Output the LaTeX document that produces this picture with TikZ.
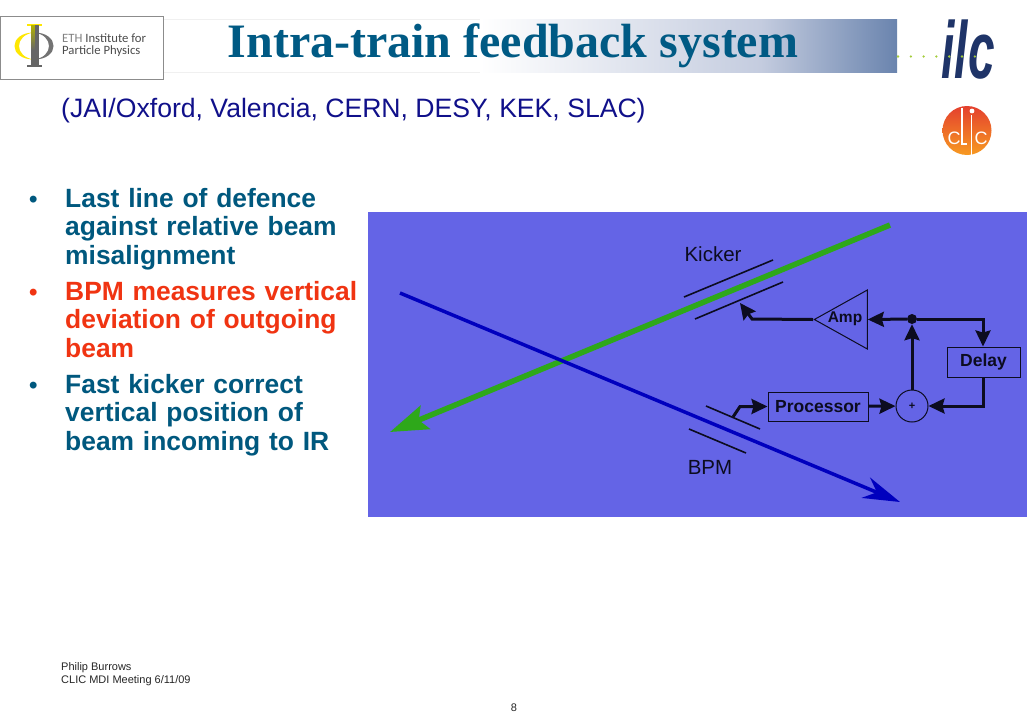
\documentclass[tikz,border=0pt]{standalone}
\usepackage{fontspec}
\setmainfont{Liberation Sans}
\newfontfamily\titlefont{Liberation Serif}
\newfontfamily\logofont{Carlito}
\usetikzlibrary{arrows.meta,positioning,shapes.geometric,calc}

\definecolor{panelblue}{HTML}{6464E6}
\definecolor{barblue}{HTML}{6A84AE}
\definecolor{barpale}{HTML}{C4CCDF}
\definecolor{titleblue}{HTML}{005A84}
\definecolor{bodyteal}{HTML}{00587E}
\definecolor{bodyred}{HTML}{F03412}
\definecolor{subnavy}{HTML}{10108A}
\definecolor{ilcnavy}{HTML}{1F3468}
\definecolor{inkdark}{HTML}{0C0C20}
\definecolor{dotgreen}{HTML}{A4CC3C}
\definecolor{clicred}{HTML}{E4402E}
\definecolor{clicorange}{HTML}{F79A22}
\definecolor{beamgreen}{HTML}{2EA81A}
\definecolor{beamblue}{HTML}{0000BE}

\pgfdeclarehorizontalshading{barshade}{100bp}{color(0bp)=(white); color(46.6bp)=(white); color(65.7bp)=(barpale); color(75bp)=(barblue); color(100bp)=(barblue)}

\tikzset{
    bullet/.style={font=\fontsize{26.4}{28.6}\selectfont\bfseries,align=left,anchor=north west,inner sep=0pt,text width=310pt},
    dotmark/.style={font=\fontsize{24}{28}\selectfont\bfseries,anchor=base west,inner sep=0pt},
    blockbox/.style={draw=inkdark,line width=1pt,inner sep=0pt,text=inkdark,font=\fontsize{17.5}{18}\selectfont\bfseries},
    beamlabel/.style={font=\fontsize{20.5}{22}\selectfont,text=inkdark,inner sep=0pt},
    plate/.style={draw=inkdark,line width=1.6pt},
    sigline/.style={draw=inkdark,line width=3pt,-{Stealth[length=16pt,width=15pt,inset=2pt]}},
    footer/.style={font=\fontsize{11}{13}\selectfont,anchor=west,inner sep=0pt,text=black!85},
}

\begin{document}
\begin{tikzpicture}[x=1pt,y=-1pt]
    \useasboundingbox (0,0) rectangle (1027,720);

    \shade[shading=barshade] (163,19) rectangle (897,72);
    \draw[black!6] (163,19) -- (480,19) (163,72) -- (480,72);
    \node[font=\fontsize{48}{50}\selectfont\bfseries\titlefont,text=titleblue,inner sep=0pt] (titletext) at (513,46) {Intra-train feedback system};

    \node[draw=black!45,fill=white,minimum width=163pt,minimum height=63pt,inner sep=0pt] (ethbox) at (81.5,48) {};
    \fill[yellow!90!orange] (34,32.5) .. controls (8,32.5) and (8,59.5) .. (34,59.5) .. controls (14,57) and (14,35) .. (34,32.5);
    \fill[black!55] (34,32.5) .. controls (60,32.5) and (60,59.5) .. (34,59.5) .. controls (54,57) and (54,35) .. (34,32.5);
    \fill[yellow!90!orange] (27,24) rectangle (42,26);
    \fill[black!60] (27,64.5) rectangle (42,66.5);
    \shade[top color=yellow!70!black,bottom color=black!60] (31,25) rectangle (35,50);
    \fill[black!60] (35,25) rectangle (39,65);
    \fill[black!60] (31,50) rectangle (35,65);
    \node[font=\fontsize{12.7}{12.5}\selectfont\logofont,text=black!70,align=left,anchor=west,inner sep=0pt] (ethlabel) at (62,45) {\textcolor{black!50}{ETH} Institute for\\Particle Physics};

    \node[font=\fontsize{26.6}{28}\selectfont,text=subnavy,anchor=west,inner sep=0pt] (partners) at (61,111) {(JAI/Oxford, Valencia, CERN, DESY, KEK, SLAC)};

    \node[font=\fontsize{81}{81}\selectfont\bfseries\itshape,text=ilcnavy,inner sep=0pt,xscale=0.59,transform shape] (ilclogo) at (968,50) {ilc};
    \foreach \k in {0,...,6}{
        \fill[dotgreen] (898+\k*12.8,56.5) circle (1.3);
    }

    \shade[top color=clicred,bottom color=clicorange] (967,130.5) circle (24.5);
    \draw[white,line width=1.2pt] (962,108) -- (962,144) -- (966.5,144);
    \draw[white,line width=1.2pt] (971.7,115) -- (971.7,155);
    \fill[white] (972,111) circle (2.4);
    \node[font=\fontsize{18}{18}\selectfont,text=white,inner sep=0pt] (clicleft) at (954,138) {C};
    \node[font=\fontsize{18}{18}\selectfont,text=white,inner sep=0pt] (clicright) at (981,138) {C};

    \node[dotmark,text=bodyteal] (dotA) at (29,207) {•};
    \node[bullet,text=bodyteal] (itemA) at (65,188) {Last line of defence\\against relative beam\\misalignment};
    \node[dotmark,text=bodyred] (dotB) at (29,300) {•};
    \node[bullet,text=bodyred] (itemB) at (65,281) {BPM measures vertical\\deviation of outgoing\\beam};
    \node[dotmark,text=bodyteal] (dotC) at (29,393) {•};
    \node[bullet,text=bodyteal] (itemC) at (65,374) {Fast kicker correct\\vertical position of\\beam incoming to IR};

    \fill[panelblue] (368,212) rectangle (1027,517);

    \coordinate (greenstart) at (890,225);
    \coordinate (greenend) at (390,432);
    \coordinate (bluestart) at (400,293);
    \coordinate (blueend) at (900,502);
    \draw[line width=5.5pt,draw=beamgreen,-{Stealth[length=38pt,width=25pt,inset=7pt]}] (greenstart) -- (greenend);
    \draw[line width=3.5pt,draw=beamblue,-{Stealth[length=37pt,width=22pt,inset=12pt]}] (bluestart) -- (blueend);

    \draw[plate] (684,297) -- (773,260);
    \draw[plate] (695,319) -- (783,282);
    \draw[plate] (706,406) -- (760,429);
    \draw[plate] (689,429) -- (746,453);

    \node[beamlabel] (kickerlabel) at (713,254) {Kicker};
    \node[beamlabel] (bpmlabel) at (710,467) {BPM};

    \node[draw=inkdark,line width=1pt,isosceles triangle,isosceles triangle stretches,shape border rotate=180,minimum width=59pt,minimum height=53pt,inner sep=0pt] (amp) at (850,319.5) {};
    \node[font=\fontsize{15.5}{18}\selectfont\bfseries,text=inkdark,inner sep=0pt] (amplabel) at (845,319) {Amp};
    \node[blockbox,minimum width=100pt,minimum height=29pt] (processor) at (818,406.5) {Processor};
    \node[blockbox,minimum width=73pt,minimum height=30pt] (delay) at (983.5,362) {Delay};
    \node[draw=inkdark,line width=1pt,circle,minimum size=32pt,inner sep=0pt,font=\fontsize{11}{12}\selectfont\bfseries,text=inkdark] (summer) at (912,406) {+};
    \node[fill=inkdark,circle,minimum size=10pt,inner sep=0pt] (branch) at (912,319) {};

    \coordinate (ampfoot) at (752,319);
    \coordinate (kickertip) at (740,303);
    \coordinate (delaycorner) at (983,319);
    \coordinate (sumcorner) at (983,406);
    \coordinate (bpmfoot) at (733,417);
    \coordinate (bpmbend) at (740,406.5);

    \draw[sigline] (amp.apex) -- (ampfoot) -- (kickertip);
    \draw[sigline] (branch) -- (amp.lower side);
    \draw[sigline] (branch) -- (delaycorner) -- (delay.north -| delaycorner);
    \draw[sigline] (delay.south -| sumcorner) -- (sumcorner) -- (summer);
    \draw[sigline] (summer) -- (branch);
    \draw[sigline] (processor) -- (summer);
    \draw[sigline] (bpmfoot) -- (bpmbend) -- (processor);

    \node[footer] (footerA) at (61,667.5) {Philip Burrows};
    \node[footer] (footerB) at (61,680.5) {CLIC MDI Meeting 6/11/09};
    \node[footer,anchor=center] (pagenum) at (514,708) {8};
\end{tikzpicture}
\end{document}
